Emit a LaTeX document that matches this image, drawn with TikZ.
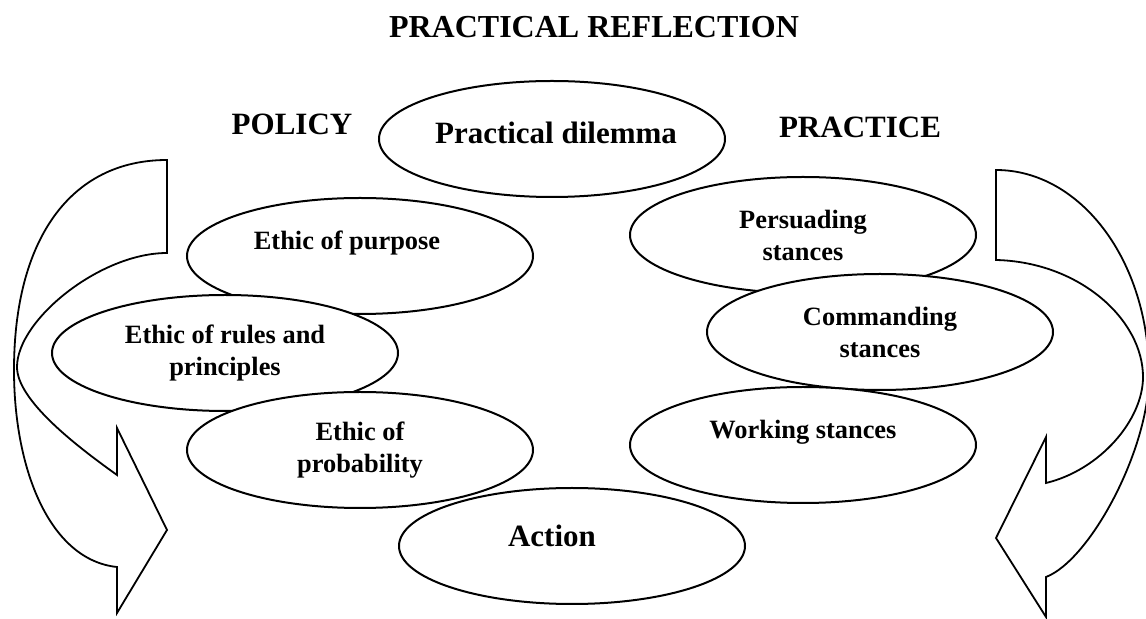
\documentclass[tikz,border=0pt]{standalone}
\usepackage{fontspec}
\setmainfont{Liberation Serif}
\usepackage{tikz}
\usetikzlibrary{shapes.geometric}
\tikzstyle{oval} = [draw, ellipse, fill=white, line width=1pt, minimum width=173pt, minimum height=58pt, inner sep=0pt, align=center, font=\fontsize{13.2}{16}\selectfont\bfseries]
\tikzstyle{txt} = [inner sep=0pt, align=center, font=\fontsize{13.2}{16}\selectfont\bfseries]
\tikzstyle{head} = [inner sep=0pt, font=\fontsize{15.5}{18}\selectfont\bfseries]
\tikzstyle{bigarrow} = [line width=0.9pt, line join=miter]

\begin{document}
\begin{tikzpicture}[x=0.5pt, y=-0.5pt]
            \clip (0,0) rectangle (1146,619);
            \fill[white] (0,0) rectangle (1146,619);

            % Headings
            \node[head, font=\fontsize{16}{19}\selectfont\bfseries] (title) at (594,27) {PRACTICAL REFLECTION};
            \node[head] (policy) at (292,124) {POLICY};
            \node[head] (practice) at (860,127) {PRACTICE};

            % Curved arrows at both sides
            \draw[bigarrow] (167,160) .. controls (70,160) and (14,240) .. (14,370)
                .. controls (14,470) and (50,560) .. (117,567)
                -- (117,613) -- (167,530) -- (117,428) -- (117,475)
                .. controls (75,445) and (17,400) .. (17,367)
                .. controls (17,320) and (100,253) .. (167,253) -- cycle;
            \draw[bigarrow] (996,170) .. controls (1080,170) and (1149,260) .. (1149,375)
                .. controls (1149,450) and (1090,560) .. (1046,577)
                -- (1046,617) -- (996,538) -- (1046,437) -- (1046,483)
                .. controls (1100,470) and (1143,420) .. (1143,377)
                .. controls (1143,320) and (1080,262) .. (996,260) -- cycle;

            % Top ellipse
            \node[oval] (dilemma) at (552,139) {};
            \node[head] (dilemmatext) at (556,133) {Practical dilemma};

            % Policy side
            \node[oval] (purpose) at (360,256) {};
            \node[txt] (purposetext) at (347,243) {Ethic of purpose};
            \node[oval] (rules) at (225,353) {Ethic of rules and\\principles};
            \node[oval] (probability) at (360,450) {Ethic of\\probability};

            % Practice side
            \node[oval] (persuading) at (803,235) {Persuading\\stances};
            \node[oval] (commanding) at (880,332) {Commanding\\stances};
            \node[oval] (working) at (803,445) {};
            \node[txt] (workingtext) at (803,432) {Working stances};

            % Bottom ellipse
            \node[oval] (action) at (572,546) {};
            \node[head] (actiontext) at (552,536) {Action};
        \end{tikzpicture}
\end{document}
